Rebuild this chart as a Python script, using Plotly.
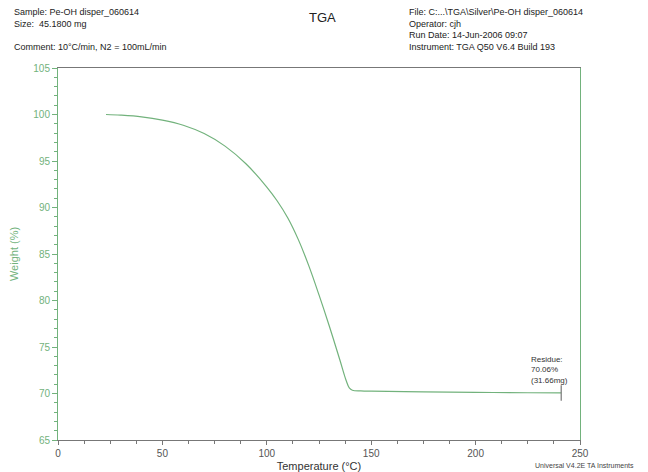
import plotly.graph_objects as go

temperature = [23, 30, 40, 50, 60, 70, 80, 90, 100, 105, 110, 115, 120, 125, 130, 135, 138, 139.5, 141, 145, 150, 175, 200, 225, 241]
weight = [100.0, 99.93, 99.75, 99.4, 98.85, 97.95, 96.6, 94.7, 92.2, 90.7, 88.9, 86.6, 83.8, 80.6, 77.2, 73.6, 71.4, 70.6, 70.35, 70.28, 70.25, 70.18, 70.12, 70.08, 70.06]
residue_T = 241
residue_w = 70.06
residue_text = "Residue:<br>70.06%<br>(31.66mg)"

GREEN = "#72b27c"
GRAY = "#777777"
FONT = "Liberation Sans, Arial, sans-serif"

# the page body adds an 8px offset; figure laid out to compensate
W, H = 640, 464
ML, MR, MT, MB = 50, 68, 60, 32

fig = go.Figure()
fig.add_trace(go.Scatter(x=temperature, y=weight, mode="lines", line_shape="spline",
                         line=dict(color=GREEN, width=1.2), showlegend=False, hoverinfo="skip"))
fig.add_trace(go.Scatter(x=[residue_T], y=[residue_w], mode="markers",
                         marker=dict(symbol="line-ns", size=11, line=dict(color=GRAY, width=1.2)),
                         showlegend=False, hoverinfo="skip"))

fig.update_layout(
    width=W, height=H,
    margin=dict(l=ML, r=MR, t=MT, b=MB, autoexpand=False),
    paper_bgcolor="white", plot_bgcolor="white",
    font=dict(family=FONT, size=9, color="#222222"),
    xaxis=dict(range=[0, 250], tickvals=[0, 50, 100, 150, 200, 250], showgrid=False, zeroline=False,
               showline=True, linecolor=GRAY, linewidth=1, mirror=True,
               ticks="outside", ticklen=4, tickcolor=GRAY, tickfont=dict(size=10, color="#555555"),
               minor=dict(dtick=12.5, ticks="outside", ticklen=3, tickcolor=GRAY),
               title=dict(text="Temperature (°C)", font=dict(size=11, color="#333333"), standoff=4)),
    yaxis=dict(range=[65, 105], tickvals=[65, 70, 75, 80, 85, 90, 95, 100, 105], showgrid=False, zeroline=False,
               showline=True, linecolor=GREEN, linewidth=1, mirror=True,
               ticks="outside", ticklen=5, tickcolor=GREEN, tickfont=dict(size=10, color=GREEN),
               minor=dict(dtick=1, ticks="outside", ticklen=3, tickcolor=GREEN),
               title=dict(text="Weight (%)", font=dict(size=11, color=GREEN), standoff=12)),
)

def px(x):
    return (x - 8 - ML) / (W - ML - MR)

def py(y):
    return (H - MB - (y - 8)) / (H - MT - MB)

def paper_text(x, y, text, size=9, xanchor="left", color="#222222"):
    fig.add_annotation(xref="paper", yref="paper", x=px(x), y=py(y), text=text, showarrow=False,
                       xanchor=xanchor, yanchor="middle", align="left",
                       font=dict(size=size, color=color, family=FONT))

paper_text(12, 12, "Sample: Pe-OH disper_060614")
paper_text(12, 24, "Size:  45.1800 mg")
paper_text(12, 47, "Comment: 10°C/min, N2 = 100mL/min")
paper_text(322, 18, "TGA", size=13, xanchor="center")
paper_text(407, 12, "File: C:...\\TGA\\Silver\\Pe-OH disper_060614")
paper_text(407, 24, "Operator: cjh")
paper_text(407, 35, "Run Date: 14-Jun-2006 09:07")
paper_text(407, 47, "Instrument: TGA Q50 V6.4 Build 193")
paper_text(636, 465, "Universal V4.2E TA Instruments", size=7, xanchor="right", color="#444444")

fig.add_annotation(x=residue_T, y=residue_w, xref="x", yref="y", text=residue_text, showarrow=False,
                   xanchor="left", yanchor="bottom", align="left", xshift=-32, yshift=6,
                   font=dict(size=8, color="#333333", family=FONT))

fig.write_html("out.html")
